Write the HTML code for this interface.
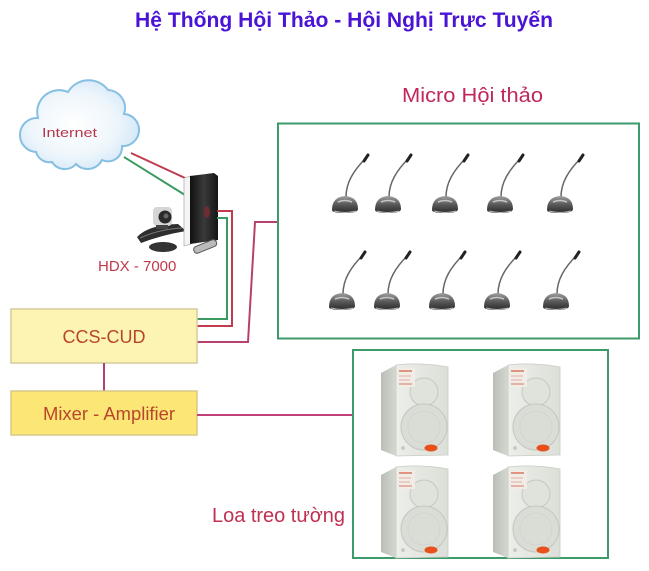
<!DOCTYPE html>
<html><head><meta charset="utf-8"><style>
html,body{margin:0;padding:0;background:#fff;}
svg{display:block;}
text{font-family:"Liberation Sans","DejaVu Sans",sans-serif;}
</style></head><body>
<svg width="649" height="571" viewBox="0 0 649 571" xmlns="http://www.w3.org/2000/svg">
<defs>
<radialGradient id="cloudg" cx="0.45" cy="0.5" r="0.6">
<stop offset="0" stop-color="#ffffff"/><stop offset="0.6" stop-color="#eef6fc"/><stop offset="1" stop-color="#cfe5f6"/>
</radialGradient>
<linearGradient id="baseg" x1="0" y1="0" x2="0" y2="1">
<stop offset="0" stop-color="#a0a0a0"/><stop offset="0.5" stop-color="#5a5a5a"/><stop offset="1" stop-color="#2a2a2a"/>
</linearGradient>
<linearGradient id="towerg" x1="0" y1="0" x2="1" y2="0">
<stop offset="0" stop-color="#111"/><stop offset="0.5" stop-color="#3a3a3a"/><stop offset="1" stop-color="#151515"/>
</linearGradient>
<linearGradient id="sideg" x1="0" y1="0" x2="1" y2="0">
<stop offset="0" stop-color="#b9bdb5"/><stop offset="1" stop-color="#d6d9d2"/>
</linearGradient>
<linearGradient id="frontg" x1="0" y1="0" x2="1" y2="0">
<stop offset="0" stop-color="#eceee9"/><stop offset="1" stop-color="#dcdfd8"/>
</linearGradient>
<g id="mic">
<path d="M1,-16 C1,-30 8,-42 21,-55" fill="none" stroke="#666" stroke-width="1.5"/>
<line x1="19" y1="-52" x2="23" y2="-58" stroke="#222" stroke-width="3" stroke-linecap="round"/>
<path d="M-13,-3 Q-13,-16 0,-17 Q13,-16 13,-4 Q13,0 0,0 Q-13,0 -13,-3 Z" fill="url(#baseg)"/>
<path d="M-7,-11 Q0,-14 7,-11" fill="none" stroke="#c4c4c4" stroke-width="1.5"/>
<path d="M-11,-2 Q0,1 11,-2" fill="none" stroke="#bbb" stroke-width="1"/>
</g>
<g id="spk">
<polygon points="0,9 15,1 15,92 0,86" fill="url(#sideg)"/>
<path d="M15,1 Q40,-2 67,3 L67,91 L15,92 Z" fill="url(#frontg)" stroke="#c8cbc4" stroke-width="0.8"/>
<circle cx="43" cy="28" r="14" fill="#e0e3dc" stroke="#c6c9c2" stroke-width="1"/>
<circle cx="43" cy="63" r="23" fill="#dadDd6" stroke="#c3c6bf" stroke-width="1"/>
<circle cx="43" cy="63" r="16" fill="none" stroke="#d2d5ce" stroke-width="1"/>
<rect x="17" y="4" width="17" height="19" fill="#f2ece6"/>
<line x1="18" y1="7" x2="31" y2="7" stroke="#d05a40" stroke-width="1.2"/>
<line x1="18" y1="12" x2="30" y2="12" stroke="#d8a090" stroke-width="0.8"/>
<line x1="18" y1="16" x2="29" y2="16" stroke="#d8a090" stroke-width="0.8"/>
<line x1="18" y1="20" x2="31" y2="20" stroke="#d05a40" stroke-width="0.8"/>
<ellipse cx="50" cy="84" rx="6.5" ry="3.5" fill="#e8501c"/>
<circle cx="22" cy="84" r="2" fill="#c8cbc4"/>
</g>
</defs>

<!-- Title -->
<text x="344" y="27" text-anchor="middle" font-size="21" font-weight="bold" fill="#4a14d6" textLength="418" lengthAdjust="spacingAndGlyphs">Hệ Thống Hội Thảo - Hội Nghị Trực Tuyến</text>

<!-- Cloud -->
<path d="M36,152 A16 16 0 0 1 38,118 A22 22 0 0 1 68,92 A24 24 0 0 1 108,90 A18 18 0 0 1 124,114 A14 14 0 0 1 122,146 A14 14 0 0 1 102,160 A16 16 0 0 1 76,164 A15 15 0 0 1 52,162 A14 14 0 0 1 36,152 Z" fill="url(#cloudg)" stroke="#86bfe2" stroke-width="2"/>
<text x="42" y="137" font-size="13" fill="#b5374a" textLength="55" lengthAdjust="spacingAndGlyphs">Internet</text>

<!-- cloud to HDX lines -->
<line x1="131" y1="153" x2="185" y2="178" stroke="#c23a4e" stroke-width="2"/>
<line x1="124" y1="157" x2="185" y2="195" stroke="#3a9a60" stroke-width="2"/>

<!-- HDX device -->
<path d="M137,237 Q148,225 178,224 L186,231 Q162,235 141,243 Z" fill="#2e2e2e"/>
<path d="M140,238 Q160,229 182,228" fill="none" stroke="#777" stroke-width="1"/>
<rect x="153" y="207" width="19" height="19" rx="4" fill="#d6d6d6"/>
<circle cx="165" cy="217" r="6.5" fill="#2a2a2a"/>
<circle cx="166" cy="216" r="2.5" fill="#666"/>
<rect x="156" y="225" width="12" height="4" fill="#444"/>
<polygon points="184,178 191,176 191,244 184,246" fill="#f4f4f4" stroke="#999" stroke-width="0.6"/>
<polygon points="190,176 214,173 218,176 218,240 190,244" fill="url(#towerg)"/>
<ellipse cx="207" cy="212" rx="3" ry="6" fill="#7a2a30" opacity="0.8"/>
<ellipse cx="163" cy="247" rx="14" ry="5" fill="#333"/>
<rect x="193" y="243" width="24" height="7" rx="3" fill="#bbb" stroke="#555" stroke-width="1" transform="rotate(-22 205 246)"/>
<text x="98" y="271" font-size="15" fill="#c03a4a">HDX - 7000</text>

<!-- HDX to CCS lines -->
<polyline points="217,211 232,211 232,326 197,326" fill="none" stroke="#c23a4e" stroke-width="2"/>
<polyline points="217,218 227,218 227,319 197,319" fill="none" stroke="#3a9a60" stroke-width="2"/>
<polyline points="197,342 248,342 255,222 278,222" fill="none" stroke="#b8406e" stroke-width="2"/>

<!-- CCS-CUD box -->
<rect x="11" y="309" width="186" height="54" fill="#fdf4b4" stroke="#d6cc98" stroke-width="1.5"/>
<text x="104" y="343" text-anchor="middle" font-size="18" fill="#b8462c">CCS-CUD</text>
<line x1="104" y1="363" x2="104" y2="391" stroke="#b0407a" stroke-width="2"/>

<!-- Mixer box -->
<rect x="11" y="391" width="186" height="44" fill="#fbe676" stroke="#d6c888" stroke-width="1.5"/>
<text x="43" y="420" font-size="18" fill="#b8462c" textLength="132" lengthAdjust="spacingAndGlyphs">Mixer - Amplifier</text>
<line x1="197" y1="415" x2="353" y2="415" stroke="#c0407a" stroke-width="2"/>

<!-- Micro box -->
<text x="402" y="102" font-size="20" fill="#c0285a" textLength="141" lengthAdjust="spacingAndGlyphs">Micro Hội thảo</text>
<rect x="278" y="123.5" width="361" height="215" fill="none" stroke="#3d9a6a" stroke-width="2"/>
<use href="#mic" x="345" y="213"/>
<use href="#mic" x="388" y="213"/>
<use href="#mic" x="445" y="213"/>
<use href="#mic" x="500" y="213"/>
<use href="#mic" x="560" y="213"/>
<use href="#mic" x="342" y="310"/>
<use href="#mic" x="387" y="310"/>
<use href="#mic" x="442" y="310"/>
<use href="#mic" x="497" y="310"/>
<use href="#mic" x="556" y="310"/>

<!-- Speaker box -->
<rect x="353" y="350" width="255" height="208" fill="none" stroke="#3d9a6a" stroke-width="2"/>
<use href="#spk" x="381" y="364"/>
<use href="#spk" x="493" y="364"/>
<use href="#spk" x="381" y="466"/>
<use href="#spk" x="493" y="466"/>
<text x="212" y="522" font-size="20" fill="#c03050" textLength="133" lengthAdjust="spacingAndGlyphs">Loa treo tường</text>
</svg>
</body></html>
